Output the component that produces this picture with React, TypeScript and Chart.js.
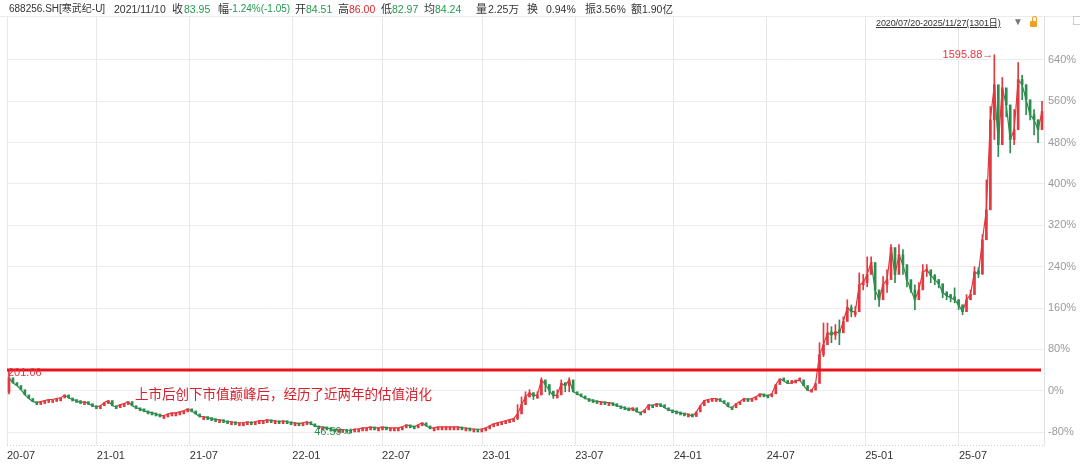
import React, { useEffect, useRef } from "react";
import { Chart, registerables } from "chart.js";

Chart.register(...registerables);

// ---- data (percent change vs. base, one bar per 5 trading days) ----
const DAYS_PER_BAR = 5;
const TOTAL_DAYS = 1305;
const firstOpen = -3;
const weeklyCloses: number[] = [
  25, 15, 10, 2, -8, -15, -21, -23, -21, -19,
  -17, -17, -15, -14, -8, -14, -17, -19, -23, -21,
  -25, -29, -31, -29, -23, -19, -29, -31, -27, -25,
  -21, -29, -33, -35, -39, -41, -43, -45, -48, -48,
  -45, -43, -43, -41, -39, -35, -39, -45, -50, -50,
  -52, -54, -56, -56, -58, -60, -60, -62, -62, -62,
  -60, -62, -60, -58, -58, -56, -58, -58, -60, -58,
  -60, -62, -62, -64, -62, -60, -64, -68, -70, -70,
  -72, -74, -75, -75, -75, -76, -77, -74, -74, -72,
  -72, -70, -72, -72, -70, -72, -72, -72, -72, -70,
  -66, -68, -70, -66, -62, -68, -72, -72, -70, -70,
  -70, -70, -70, -70, -72, -72, -74, -74, -75, -74,
  -72, -68, -64, -62, -60, -58, -56, -54, -45, -27,
  -12, -4, -10, -8, 21, 12, 0, -10, -8, 14,
  10, 21, -2, -6, -10, -15, -17, -19, -21, -21,
  -23, -23, -25, -29, -31, -33, -37, -33, -41, -43,
  -37, -27, -29, -25, -27, -33, -37, -39, -41, -43,
  -45, -45, -50, -41, -29, -19, -17, -15, -15, -19,
  -23, -31, -33, -25, -21, -15, -17, -15, -12, -6,
  -8, -10, -6, 12, 23, 19, 14, 15, 19, 21,
  10, 0, 0, 14, 70, 89, 112, 108, 114, 112,
  134, 161, 153, 153, 205, 209, 225, 248, 195, 176,
  205, 215, 277, 225, 263, 244, 215, 195, 176, 195,
  230, 234, 223, 215, 207, 190, 184, 180, 176, 166,
  153, 176, 186, 230, 226, 292, 350, 524, 592, 476,
  586, 553, 486, 505, 602, 592, 563, 534, 524, 505,
  540,
];

// high/low ranges (wicks) where they stand out
const earlyWickWeeks = [0, 86];
const earlyWickLows = [-6, -79];
const earlyWickHighs = [38, -74];
const midWickStart = 128;
const midWickLows = [-56, -37, -21, -12, -17, -15, -8, -2, -8, -15, -14, -4, -2, -2];
const midWickHighs = [-27, -12, -2, 2, -4, -2, 25, 17, 6, -4, 2, 21, 15, 25];
const lateWickStart = 204;
const lateWickLows = [
  37, 66, 99, 93, 99, 89, 118, 151, 143, 143,
  176, 195, 201, 234, 176, 163, 182, 190, 254, 209,
  248, 225, 201, 190, 157, 182, 215, 221, 209, 205,
  199, 180, 176, 172, 170, 157, 147, 166, 176, 215,
  219, 225, 321, 370, 486, 453, 563, 530, 460, 476,
  544, 563, 534, 524, 495, 480, 505,
];
const lateWickHighs = [
  93, 131, 131, 124, 128, 137, 143, 176, 166, 163,
  228, 225, 259, 259, 215, 186, 221, 234, 283, 273,
  283, 273, 234, 209, 205, 209, 244, 244, 230, 225,
  215, 195, 192, 186, 199, 176, 166, 186, 195, 240,
  238, 302, 408, 550, 650, 524, 606, 573, 534, 544,
  635, 610, 592, 553, 544, 524, 560,
];

const xTickDays = [0, 113, 230, 359, 472, 598, 715, 839, 956, 1080, 1198];
const xTickLabels = ["20-07", "21-01", "21-07", "22-01", "22-07", "23-01", "23-07", "24-01", "24-07", "25-01", "25-07"];
const yTickValues = [-80, 0, 80, 160, 240, 320, 400, 480, 560, 640];
const Y_MIN = -105;
const Y_MAX = 725;

const levelValue = 40;
const startLabel = "201.06";
const startLabelValue = 34;
const minLabel = "46.59";
const minWeek = 86;
const minValue = -80.5;
const maxLabel = "1595.88";
const maxWeek = 248;
const maxValue = 650;
const noteText = "上市后创下市值巅峰后，经历了近两年的估值消化";
const noteDay = 161;
const noteValue = -6;

const RED = "#e2383f";
const GREEN = "#2d8c4e";
const FONT = "'Liberation Sans', 'Noto Sans CJK SC', sans-serif";

const dayOf = (w: number) => w * DAYS_PER_BAR + DAYS_PER_BAR / 2;

const overlayPlugin = {
  id: "overlay",
  afterDatasetsDraw(chart: any) {
    const { ctx, chartArea: a } = chart;
    const x = chart.scales.x;
    const y = chart.scales.y;
    ctx.save();
    const ly = y.getPixelForValue(levelValue);
    ctx.strokeStyle = "#e8131b";
    ctx.lineWidth = 3;
    ctx.beginPath();
    ctx.moveTo(a.left, ly);
    ctx.lineTo(a.right - 3, ly);
    ctx.stroke();

    ctx.font = "11px " + FONT;
    ctx.textBaseline = "middle";
    ctx.fillStyle = RED;
    ctx.textAlign = "left";
    ctx.fillText(startLabel, x.getPixelForValue(0) + 1, y.getPixelForValue(startLabelValue));
    ctx.textAlign = "right";
    ctx.fillText(maxLabel + "→", x.getPixelForValue(dayOf(maxWeek)) - 1, y.getPixelForValue(maxValue));
    ctx.fillStyle = GREEN;
    ctx.fillText(minLabel + "→", x.getPixelForValue(dayOf(minWeek)) + 2, y.getPixelForValue(minValue));

    ctx.font = "13.5px 'Noto Sans CJK SC', sans-serif";
    ctx.fillStyle = "#d9202b";
    ctx.textAlign = "left";
    ctx.fillText(noteText, x.getPixelForValue(noteDay), y.getPixelForValue(noteValue));

    // top frame line and dotted bottom border
    ctx.strokeStyle = "#ececec";
    ctx.lineWidth = 1;
    ctx.beginPath();
    ctx.moveTo(0, a.top + 0.5);
    ctx.lineTo(1080, a.top + 0.5);
    ctx.stroke();
    ctx.strokeStyle = "#cfcfcf";
    ctx.setLineDash([1, 2]);
    ctx.beginPath();
    ctx.moveTo(a.left, a.bottom + 0.5);
    ctx.lineTo(a.right, a.bottom + 0.5);
    ctx.stroke();
    ctx.restore();
  },
};

export default function App() {
  const canvasRef = useRef<HTMLCanvasElement | null>(null);

  useEffect(() => {
    document.body.style.margin = "0";
    const canvas = canvasRef.current;
    if (!canvas) return;

    const openOf = (i: number) => (i === 0 ? firstOpen : weeklyCloses[i - 1]);
    const bodies = weeklyCloses.map((c, i) => ({ x: dayOf(i), y: [openOf(i), c] as [number, number] }));
    const bodyColors = weeklyCloses.map((c, i) => (c >= openOf(i) ? RED : GREEN));

    const wickWeeks: number[] = [];
    const wickRanges: [number, number][] = [];
    earlyWickWeeks.forEach((w, k) => {
      wickWeeks.push(w);
      wickRanges.push([earlyWickLows[k], earlyWickHighs[k]]);
    });
    midWickLows.forEach((lo, k) => {
      wickWeeks.push(midWickStart + k);
      wickRanges.push([lo, midWickHighs[k]]);
    });
    lateWickLows.forEach((lo, k) => {
      wickWeeks.push(lateWickStart + k);
      wickRanges.push([lo, lateWickHighs[k]]);
    });
    const wicks = wickWeeks.map((w, k) => ({ x: dayOf(w), y: wickRanges[k] }));
    const wickColors = wickWeeks.map((w) => bodyColors[w]);
    const closeLine = weeklyCloses.map((c, i) => ({ x: dayOf(i), y: c }));

    const chart = new Chart(canvas, {
      type: "bar",
      data: {
        datasets: [
          {
            type: "line",
            data: closeLine as any,
            borderWidth: 1.2,
            pointRadius: 0,
            borderColor: GREEN,
            segment: {
              borderColor: (c: any) => (c.p1.parsed.y >= c.p0.parsed.y ? RED : GREEN),
            },
            order: 3,
          } as any,
          {
            data: wicks as any,
            backgroundColor: wickColors,
            barThickness: 1,
            grouped: false,
            order: 2,
          } as any,
          {
            data: bodies as any,
            backgroundColor: bodyColors,
            barThickness: 2,
            minBarLength: 3,
            grouped: false,
            order: 1,
          } as any,
        ],
      },
      options: {
        responsive: false,
        animation: false,
        devicePixelRatio: 1,
        layout: { padding: { left: 7, top: 16, right: 0, bottom: 0 } },
        plugins: { legend: { display: false }, tooltip: { enabled: false } },
        scales: {
          x: {
            type: "linear",
            offset: false,
            min: 0,
            max: TOTAL_DAYS,
            afterBuildTicks: (s: any) => {
              s.ticks = xTickDays.map((v) => ({ value: v }));
            },
            afterFit: (s: any) => {
              s.height = 19;
            },
            ticks: {
              autoSkip: false,
              maxRotation: 0,
              align: "start",
              padding: 4,
              color: "#333",
              font: { size: 11, family: FONT },
              callback: (v: any) => {
                const k = xTickDays.indexOf(Number(v));
                return k >= 0 ? xTickLabels[k] : "";
              },
            },
            grid: { color: "#e8e8e8", drawTicks: false, offset: false },
            border: { display: false },
          },
          y: {
            position: "right",
            min: Y_MIN,
            max: Y_MAX,
            afterBuildTicks: (s: any) => {
              s.ticks = yTickValues.map((v) => ({ value: v }));
            },
            afterFit: (s: any) => {
              s.width = 36;
            },
            ticks: {
              padding: 4,
              color: "#9a9a9a",
              font: { size: 11, family: FONT },
              callback: (v: any) => `${v}%`,
            },
            grid: { color: "#ececec", drawTicks: false },
            border: { color: "#e0e0e0" },
          },
        },
      },
      plugins: [overlayPlugin],
    } as any);

    return () => chart.destroy();
  }, []);

  const base: React.CSSProperties = { position: "absolute", top: 2, fontSize: 10.5, fontFamily: FONT, color: "#333", whiteSpace: "nowrap", lineHeight: "14px" };
  const G = "#239a50";
  const R = "#e0262e";
  const item = (left: number, text: string, color = "#333", size = 10.5) => (
    <span style={{ ...base, left, color, fontSize: size }}>{text}</span>
  );

  return (
    <div style={{ position: "absolute", left: 0, top: 0, width: 1080, height: 464, background: "#fff", overflow: "hidden" }}>
      <canvas ref={canvasRef} width={1080} height={464} style={{ position: "absolute", left: 0, top: 0, width: 1080, height: 464 }} />
      {item(9, "688256.SH[寒武纪-U]", "#333", 10)}
      {item(114, "2021/11/10")}
      {item(172, "收", "#333", 11)}
      {item(184, "83.95", G)}
      {item(218, "幅", "#333", 11)}
      {item(229, "-1.24%(-1.05)", G, 10)}
      {item(295, "开", "#333", 11)}
      {item(306, "84.51", G)}
      {item(338, "高", "#333", 11)}
      {item(349, "86.00", R)}
      {item(381, "低", "#333", 11)}
      {item(392, "82.97", G)}
      {item(424, "均", "#333", 11)}
      {item(435, "84.24", G)}
      {item(476, "量", "#333", 11)}
      {item(488, "2.25万")}
      {item(527, "换", "#333", 11)}
      {item(546, "0.94%")}
      {item(585, "振", "#333", 11)}
      {item(596, "3.56%")}
      {item(631, "额", "#333", 11)}
      {item(642, "1.90亿")}
      <span style={{ ...base, top: 16, left: 876, fontSize: 9, letterSpacing: -0.1, textDecoration: "underline" }}>2020/07/20-2025/11/27(1301日)</span>
      <span style={{ ...base, top: 15, left: 1013, fontSize: 10, color: "#777" }}>▼</span>
      <div style={{ position: "absolute", left: 1030, top: 21, width: 7, height: 6, background: "#f0a020", borderRadius: 1 }} />
      <div style={{ position: "absolute", left: 1032, top: 16, width: 5, height: 5, border: "1.5px solid #f0a020", borderBottom: "none", borderRadius: "3px 3px 0 0", boxSizing: "border-box" }} />
      <div style={{ position: "absolute", left: 1073, top: 16, width: 9, height: 9, border: "1px solid #ccc", boxSizing: "border-box" }} />
    </div>
  );
}
